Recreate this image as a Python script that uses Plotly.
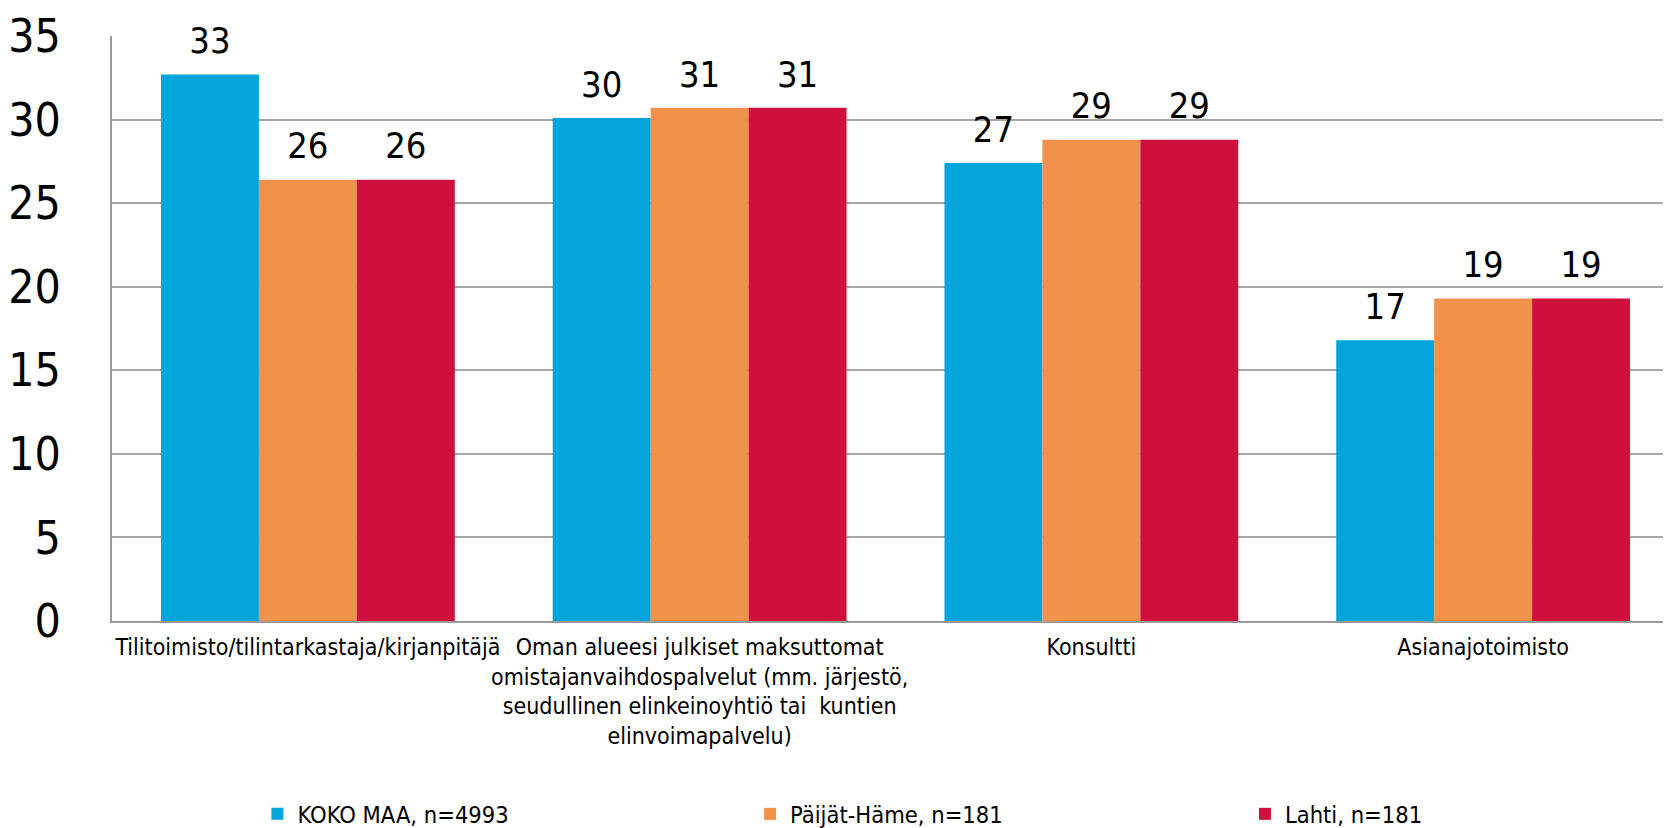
import plotly.graph_objects as go

categories = [
    "Tilitoimisto/tilintarkastaja/kirjanpitäjä",
    "Oman alueesi julkiset maksuttomat<br>omistajanvaihdospalvelut (mm. järjestö,<br>seudullinen elinkeinoyhtiö tai  kuntien<br>elinvoimapalvelu)",
    "Konsultti",
    "Asianajotoimisto",
]
series_names = ["KOKO MAA, n=4993", "Päijät-Häme, n=181", "Lahti, n=181"]
koko_maa = [32.7, 30.1, 27.4, 16.8]
paijat_hame = [26.4, 30.7, 28.8, 19.3]
lahti = [26.4, 30.7, 28.8, 19.3]
colors = ["#04A5DA", "#F0914C", "#CF103C"]
y_ticks = [0, 5, 10, 15, 20, 25, 30, 35]

FONT = "DejaVu Sans Condensed, DejaVu Sans, sans-serif"
legend_ids = ["legend", "legend2", "legend3"]
legend_x = [0.0928, 0.4072, 0.7230]
groups = ["g1", "g2", "g3"]

xs = list(range(len(categories)))
fig = go.Figure()
for name, vals, col, lid, grp in zip(series_names, [koko_maa, paijat_hame, lahti], colors, legend_ids, groups):
    fig.add_trace(go.Bar(
        x=xs, y=vals, name=name,
        marker=dict(color=col, line=dict(width=0)),
        offsetgroup=grp,
        legend=lid,
    ))
for name, vals, grp in zip(series_names, [koko_maa, paijat_hame, lahti], groups):
    fig.add_trace(go.Scatter(
        x=xs, y=vals, mode="markers+text", offsetgroup=grp,
        text=[f"{v:.0f}" for v in vals], textposition="top center",
        textfont=dict(family=FONT, size=36, color="#000000"),
        marker=dict(size=18, opacity=0),
        showlegend=False, hoverinfo="skip", cliponaxis=False,
    ))

legend_common = dict(orientation="h", y=-0.33, yanchor="middle",
                     font=dict(size=23.5, family=FONT), bgcolor="rgba(0,0,0,0)")

fig.update_layout(
    width=1671, height=828,
    barmode="group", bargap=0.25, bargroupgap=0,
    scattermode="group", scattergap=0.25,
    plot_bgcolor="white", paper_bgcolor="white",
    margin=dict(l=104, r=0, t=28, b=215, autoexpand=False),
    font=dict(family=FONT, color="#000000"),
    xaxis=dict(
        tickmode="array", tickvals=xs, ticktext=categories, tickangle=0,
        range=[-0.5, 3.5], showgrid=False, showline=True, linecolor="#999999", linewidth=2,
        tickfont=dict(size=23, family=FONT), ticks="", ticklabelstandoff=4,
    ),
    yaxis=dict(
        range=[0, 35], tickvals=y_ticks, showgrid=True, gridcolor="#A6A6A6", gridwidth=2,
        showline=True, linecolor="#999999", linewidth=2, zeroline=False,
        tickfont=dict(size=46, family=FONT), ticks="", ticklabelstandoff=40,
    ),
    legend=dict(x=legend_x[0], xanchor="left", **legend_common),
    legend2=dict(x=legend_x[1], xanchor="left", **legend_common),
    legend3=dict(x=legend_x[2], xanchor="left", **legend_common),
    showlegend=True,
)

fig.write_html("out.html")
